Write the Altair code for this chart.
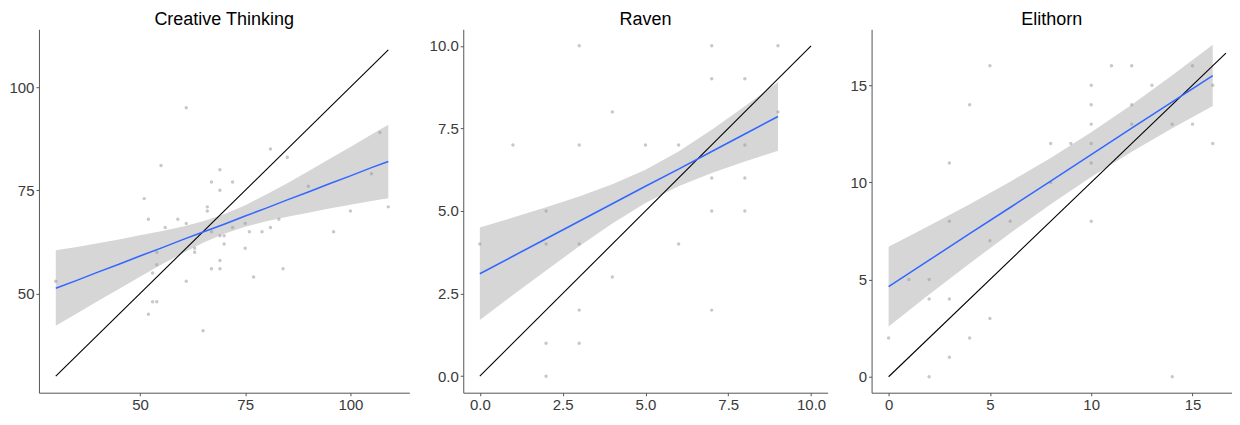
import altair as alt
import pandas as pd

FONT = "Liberation Sans"

# ---------------- Creative Thinking ----------------
ct_x = [30, 61, 55, 69, 67, 72, 69, 51, 66, 66, 52, 59, 61, 56, 67, 72, 75, 76, 79, 81, 83,
        81, 85, 90, 107, 105, 100, 109, 96, 84, 77, 69, 69, 67, 75, 70, 69, 70, 63, 63, 54,
        54, 53, 53, 54, 52, 61, 65]
ct_y = [53, 95, 81, 80, 77, 77, 75, 73, 71, 70, 68, 68, 67, 66, 65, 66, 67, 65, 65, 66, 68,
        85, 83, 76, 89, 79, 70, 71, 65, 56, 54, 58, 56, 56, 61, 62, 64, 64, 61, 60, 60,
        57, 55, 48, 48, 45, 53, 41]
ct_bx = [30, 35, 40, 45, 50, 55, 60, 65, 70, 75, 80, 85, 90, 95, 100, 105, 109]
ct_fit = [51.3, 53.2, 55.2, 57.1, 59.1, 61.0, 63.0, 64.9, 66.8, 68.8, 70.7, 72.7, 74.6,
          76.6, 78.5, 80.5, 82.0]
ct_lo = [42.2, 45.2, 48.2, 51.1, 54.1, 57.0, 59.7, 62.3, 64.5, 66.2, 67.5, 68.6, 69.6,
         70.6, 71.5, 72.4, 73.1]
ct_hi = [60.5, 61.3, 62.2, 63.1, 64.1, 65.1, 66.2, 67.5, 69.2, 71.4, 74.0, 76.7, 79.6,
         82.6, 85.5, 88.5, 90.9]
ct_ident = [30, 109]

# ---------------- Raven ----------------
rv_x = [0, 1, 2, 2, 2, 2, 3, 3, 3, 3, 3, 4, 4, 5, 6, 6, 7, 7, 7, 7, 7, 8, 8, 8, 8, 9, 9]
rv_y = [4, 7, 5, 4, 1, 0, 10, 7, 4, 2, 1, 8, 3, 7, 7, 4, 10, 9, 6, 5, 2, 9, 7, 6, 5, 10, 8]
rv_bx = [0, 1, 2, 3, 4, 5, 6, 7, 8, 9]
rv_fit = [3.10, 3.63, 4.16, 4.69, 5.22, 5.75, 6.27, 6.80, 7.33, 7.86]
rv_lo = [1.70, 2.46, 3.20, 3.93, 4.62, 5.24, 5.75, 6.15, 6.50, 6.82]
rv_hi = [4.50, 4.80, 5.11, 5.44, 5.81, 6.25, 6.80, 7.46, 8.17, 8.90]
rv_ident = [0, 10]

# ---------------- Elithorn ----------------
el_x = [0, 1, 2, 2, 2, 3, 3, 3, 3, 4, 4, 5, 5, 5, 6, 8, 8, 9, 10, 10, 10, 10, 10, 10,
        11, 12, 12, 12, 13, 14, 14, 15, 15, 16, 16]
el_y = [2, 5, 5, 4, 0, 11, 8, 4, 1, 14, 2, 16, 7, 3, 8, 12, 10, 12, 15, 14, 13, 12, 11, 8,
        16, 16, 14, 13, 15, 13, 0, 16, 13, 15, 12]
el_bx = [0, 2, 4, 6, 8, 10, 12, 14, 16]
el_fit = [4.64, 6.00, 7.36, 8.71, 10.07, 11.43, 12.79, 14.15, 15.50]
el_lo = [2.59, 4.23, 5.83, 7.39, 8.88, 10.28, 11.58, 12.79, 13.93]
el_hi = [6.69, 7.77, 8.88, 10.04, 11.26, 12.58, 14.00, 15.51, 17.08]
el_ident = [0, 16.65]

PLOT_H = 364


def panel(title, px, py, bx, fit, lo, hi, ident, xdom, ydom, xticks, yticks, fmt,
          width, extent):
    pts = pd.DataFrame({"x": px, "y": py})
    band = pd.DataFrame({"x": bx, "fit": fit, "lo": lo, "hi": hi})
    idl = pd.DataFrame({"x": ident, "y": ident})
    xs = alt.Scale(domain=xdom, nice=False, zero=False)
    ys = alt.Scale(domain=ydom, nice=False, zero=False)
    xa = alt.Axis(title=None, values=xticks, format=fmt)
    ya = alt.Axis(title=None, values=yticks, format=fmt,
                  minExtent=extent, maxExtent=extent)

    def X(f):
        return alt.X(f, type="quantitative", scale=xs, axis=xa)

    def Y(f):
        return alt.Y(f, type="quantitative", scale=ys, axis=ya)

    area = alt.Chart(band).mark_area(color="#d6d6d6", opacity=1).encode(
        x=X("x"), y=Y("lo"), y2="hi")
    points = alt.Chart(pts).mark_circle(size=12, color="#9a9a9a", opacity=0.55).encode(
        x=X("x"), y=Y("y"))
    fitl = alt.Chart(band).mark_line(color="#3366FF", strokeWidth=1.5).encode(
        x=X("x"), y=Y("fit"))
    idline = alt.Chart(idl).mark_line(color="#000000", strokeWidth=1.1).encode(
        x=X("x"), y=Y("y"))
    return alt.layer(area, points, idline, fitl).properties(
        width=width, height=PLOT_H,
        title=alt.TitleParams(text=title, fontSize=18, font=FONT, fontWeight="normal",
                              color="#000000", anchor="middle", offset=0))


p1 = panel("Creative Thinking", ct_x, ct_y, ct_bx, ct_fit, ct_lo, ct_hi, ct_ident,
           [26, 114], [26, 114], [50, 75, 100], [50, 75, 100], "d", 371, 29)
p2 = panel("Raven", rv_x, rv_y, rv_bx, rv_fit, rv_lo, rv_hi, rv_ident,
           [-0.5, 10.5], [-0.5, 10.5], [0, 2.5, 5, 7.5, 10], [0, 2.5, 5, 7.5, 10],
           ".1f", 365, 44)
p3 = panel("Elithorn", el_x, el_y, el_bx, el_fit, el_lo, el_hi, el_ident,
           [-0.84, 16.95], [-0.82, 17.88], [0, 5, 10, 15], [0, 5, 10, 15], "d", 361, 34)

chart = alt.hconcat(p1, p2, p3, spacing=10).properties(
    padding={"left": 0, "right": 0, "top": 3, "bottom": 0}
).configure_view(strokeWidth=0).configure_axis(
    grid=False, domainColor="#555555", domainWidth=1, tickColor="#555555", tickWidth=1,
    tickSize=3, labelPadding=2, labelFont=FONT, labelFontSize=15, labelColor="#3a3a3a"
)

chart.save("out.html", embed_options={"renderer": "svg", "actions": False})
